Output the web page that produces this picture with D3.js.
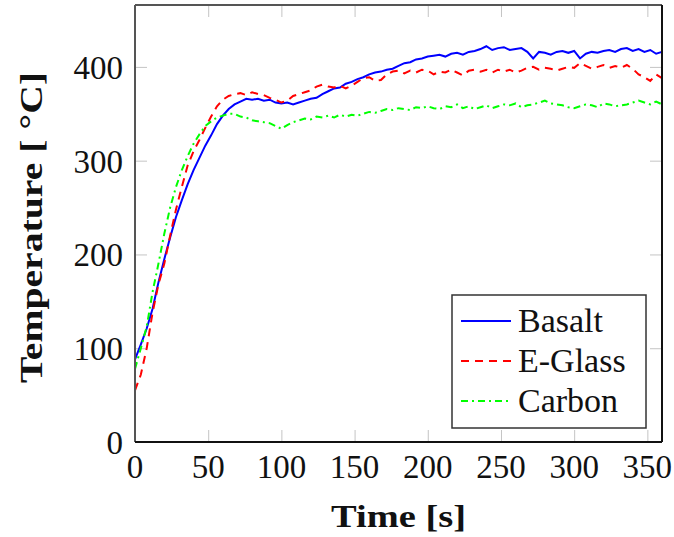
<!DOCTYPE html>
<html>
<head>
<meta charset="utf-8">
<script src="https://cdn.jsdelivr.net/npm/d3@7"></script>
<style>
  body { margin: 0; background: #fff; }
  text { font-family: "Liberation Serif", "DejaVu Serif", serif; fill: #111; }
</style>
</head>
<body>
<div id="chartContainer"></div>
<script>
// time samples every 4 s
const times = d3.range(0, 361, 4);

const basalt = [88, 104, 121, 142, 170, 195, 218, 240, 258, 275, 290, 303, 316, 327, 339, 348,
  355, 360, 363, 366, 365, 366, 364, 365, 362, 361, 362, 360, 362, 364, 366, 367, 371, 374, 377, 378,
  382, 384, 387, 389, 392, 394, 395, 397, 398, 401, 404, 405, 408, 409, 411, 412, 413, 411, 414, 415,
  413, 416, 417, 419, 422, 418, 420, 421, 418, 419, 420, 416, 409, 416, 415, 413, 416, 417, 415, 417,
  409, 414, 416, 415, 417, 418, 416, 419, 420, 417, 419, 416, 418, 414, 416];

const eglass = [55, 72, 100, 138, 168, 190, 220, 248, 272, 295, 310, 322, 335, 347, 358, 365,
  369, 371, 372, 370, 373, 371, 370, 367, 365, 362, 364, 369, 371, 373, 375, 379, 381, 379, 378, 380,
  377, 380, 384, 388, 389, 385, 386, 392, 395, 396, 393, 396, 394, 397, 396, 392, 395, 394, 397, 394,
  391, 396, 397, 395, 397, 394, 397, 395, 397, 394, 396, 399, 400, 397, 399, 398, 396, 398, 400, 399,
  404, 401, 398, 400, 402, 399, 401, 399, 402, 398, 392, 389, 385, 392, 388];

const carbon = [78, 100, 123, 160, 190, 222, 250, 272, 290, 305, 318, 328, 337, 342, 346, 348,
  350, 350, 347, 346, 343, 342, 341, 340, 337, 334, 338, 341, 343, 345, 344, 347, 346, 348, 346, 349,
  347, 349, 348, 350, 352, 351, 353, 355, 354, 356, 355, 354, 357, 356, 358, 356, 355, 358, 357, 360,
  356, 358, 355, 357, 359, 356, 358, 360, 359, 361, 357, 359, 360, 362, 364, 361, 360, 359, 357, 356,
  358, 360, 359, 357, 361, 360, 358, 359, 360, 362, 364, 362, 360, 363, 360];

const seriesNames = ["Basalt", "E-Glass", "Carbon"];
const seriesColors = ["#0000ff", "#ff0000", "#00ff00"];
const seriesDash = [null, "8,6", "7,4,2,4"];
const xTicks = [0, 50, 100, 150, 200, 250, 300, 350];
const yTicks = [0, 100, 200, 300, 400];

const svgWidth = 674;
const svgHeight = 537;
const margin = { top: 5, right: 12, bottom: 95, left: 135 };

const svg = d3.select("#chartContainer")
  .append("svg")
  .attr("width", svgWidth)
  .attr("height", svgHeight);

const xScale = d3.scaleLinear()
  .domain([0, 360])
  .range([margin.left, svgWidth - margin.right]);

const yScale = d3.scaleLinear()
  .domain([0, 466])
  .range([svgHeight - margin.bottom, margin.top]);

// inner ticks on all four sides
const tickLen = 12;
svg.append("g")
  .attr("transform", `translate(0, ${yScale(0)})`)
  .call(d3.axisBottom(xScale).tickValues(xTicks).tickSize(-tickLen).tickFormat(""))
  .call(g => g.select(".domain").remove())
  .selectAll("line").attr("stroke", "#c4c4c4");
svg.append("g")
  .attr("transform", `translate(0, ${yScale(466)})`)
  .call(d3.axisTop(xScale).tickValues(xTicks).tickSize(-tickLen).tickFormat(""))
  .call(g => g.select(".domain").remove())
  .selectAll("line").attr("stroke", "#c4c4c4");
svg.append("g")
  .attr("transform", `translate(${xScale(0)}, 0)`)
  .call(d3.axisLeft(yScale).tickValues(yTicks).tickSize(-tickLen).tickFormat(""))
  .call(g => g.select(".domain").remove())
  .selectAll("line").attr("stroke", "#c4c4c4");
svg.append("g")
  .attr("transform", `translate(${xScale(360)}, 0)`)
  .call(d3.axisRight(yScale).tickValues(yTicks).tickSize(-tickLen).tickFormat(""))
  .call(g => g.select(".domain").remove())
  .selectAll("line").attr("stroke", "#c4c4c4");

// tick labels
svg.selectAll(".xlab")
  .data(xTicks)
  .enter()
  .append("text")
  .attr("class", "xlab")
  .attr("x", d => xScale(d))
  .attr("y", yScale(0) + 36)
  .attr("text-anchor", "middle")
  .style("font-size", "33px")
  .text(d => d);

svg.selectAll(".ylab")
  .data(yTicks)
  .enter()
  .append("text")
  .attr("class", "ylab")
  .attr("x", xScale(0) - 12)
  .attr("y", d => yScale(d) + 12)
  .attr("text-anchor", "end")
  .style("font-size", "33px")
  .text(d => d);

// curves
const allSeries = [basalt, eglass, carbon];
const line = d3.line()
  .x((d, i) => xScale(times[i]))
  .y(d => yScale(d));

svg.selectAll(".curve")
  .data(allSeries)
  .enter()
  .append("path")
  .attr("class", "curve")
  .attr("d", d => line(d))
  .attr("fill", "none")
  .attr("stroke", (d, i) => seriesColors[i])
  .attr("stroke-width", 2)
  .attr("stroke-dasharray", (d, i) => seriesDash[i]);

// frame
const x0 = xScale(0), x1 = xScale(360), y0 = yScale(0), y1 = yScale(466);
svg.append("line").attr("x1", x0).attr("x2", x1).attr("y1", y1).attr("y2", y1).attr("stroke", "#555").attr("stroke-width", 2);
svg.append("line").attr("x1", x0).attr("x2", x0).attr("y1", y1).attr("y2", y0).attr("stroke", "#555").attr("stroke-width", 2);
svg.append("line").attr("x1", x0).attr("x2", x1).attr("y1", y0).attr("y2", y0).attr("stroke", "#111").attr("stroke-width", 2);
svg.append("line").attr("x1", x1).attr("x2", x1).attr("y1", y1).attr("y2", y0).attr("stroke", "#111").attr("stroke-width", 2);

// axis titles
svg.append("text")
  .attr("x", (x0 + x1) / 2)
  .attr("y", 527)
  .attr("text-anchor", "middle")
  .style("font-size", "32px")
  .style("font-weight", "bold")
  .attr("textLength", 135)
  .attr("lengthAdjust", "spacingAndGlyphs")
  .text("Time [s]");

svg.append("text")
  .attr("transform", `translate(42, ${(y0 + y1) / 2 + 4}) rotate(-90)`)
  .attr("text-anchor", "middle")
  .style("font-size", "32px")
  .style("font-weight", "bold")
  .attr("textLength", 311)
  .attr("lengthAdjust", "spacingAndGlyphs")
  .text("Temperature [ \u00B0C]");

// legend
const legend = svg.append("g").attr("transform", "translate(452, 295)");
legend.append("rect")
  .attr("width", 194)
  .attr("height", 133)
  .attr("fill", "#fff")
  .attr("stroke", "#333")
  .attr("stroke-width", 1.5);

const entry = legend.selectAll(".entry")
  .data(seriesNames)
  .enter()
  .append("g")
  .attr("class", "entry")
  .attr("transform", (d, i) => `translate(0, ${26 + i * 40})`);

entry.append("line")
  .attr("x1", 9)
  .attr("x2", 59)
  .attr("stroke", (d, i) => seriesColors[i])
  .attr("stroke-width", 2)
  .attr("stroke-dasharray", (d, i) => seriesDash[i]);

entry.append("text")
  .attr("x", 66)
  .attr("y", 11)
  .style("font-size", "34px")
  .text(d => d);
</script>
</body>
</html>
